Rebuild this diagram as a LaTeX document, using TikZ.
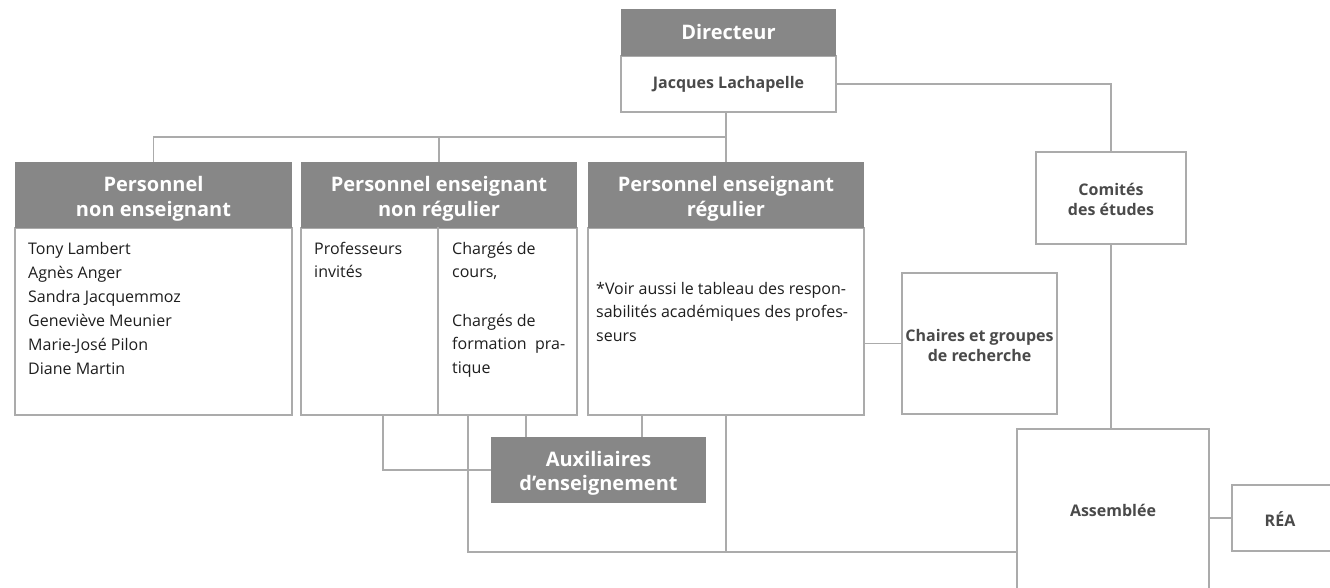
\documentclass[tikz,border=0pt]{standalone}
\usepackage{fontspec}
\setmainfont{Open Sans}
\definecolor{hdrgray}{HTML}{878787}
\definecolor{linegray}{HTML}{ABABAB}
\definecolor{lbltext}{HTML}{4A4A4A}
\definecolor{bodytext}{HTML}{1E1E1E}
\tikzset{
  hdr/.style={fill=hdrgray, text=white, font=\bfseries\fontsize{20}{25}\selectfont, align=center, inner sep=0pt},
  hdrtxt/.style={text=white, font=\bfseries\fontsize{20}{24.5}\selectfont, align=center, inner sep=0pt},
  boxbody/.style={draw=linegray, line width=1.1pt, fill=white, inner sep=0pt},
  conn/.style={draw=linegray, line width=1.1pt},
  lbl/.style={text=lbltext, font=\bfseries\fontsize{16}{20}\selectfont, align=center, inner sep=0pt},
  bodytxt/.style={text=bodytext, font=\fontsize{16}{23.5}\selectfont, align=left, inner sep=0pt, anchor=north west}
}
\begin{document}
\begin{tikzpicture}[x=1pt,y=-1pt]
\useasboundingbox (0,0) rectangle (1330,588);
\begin{scope}
\clip (0,0) rectangle (1330,588);
% Directeur
\node[boxbody, minimum width=215, minimum height=56] (dirb) at (728.5,84) {};
\node[hdr, minimum width=215, minimum height=47] (dirh) at (728.5,32.5) {Directeur};
\node[lbl] (dirn) at (dirb.center) {Jacques Lachapelle};
% columns
\node[boxbody, minimum width=277, minimum height=187] (b1) at (153.5,321.5) {};
\node[hdr, minimum width=277, minimum height=66] (h1) at (153.5,195) {};
\node[hdrtxt] (h1t) at ([yshift=-4pt]h1.center) {Personnel\\non enseignant};
\node[boxbody, minimum width=276, minimum height=187] (b2) at (439,321.5) {};
\node[hdr, minimum width=276, minimum height=66] (h2) at (439,195) {};
\node[hdrtxt] (h2t) at ([yshift=-4pt]h2.center) {Personnel enseignant\\non régulier};
\node[boxbody, minimum width=276, minimum height=187] (b3) at (726,321.5) {};
\node[hdr, minimum width=276, minimum height=66] (h3) at (726,195) {};
\node[hdrtxt] (h3t) at ([yshift=-4pt]h3.center) {Personnel enseignant\\régulier};
% side boxes
\node[boxbody, minimum width=155, minimum height=141] (cha) at (979.5,343.5) {};
\node[lbl] (chat) at ([yshift=-2pt]cha.center) {Chaires et groupes\\de recherche};
\node[boxbody, minimum width=150, minimum height=92] (com) at (1111,198) {};
\node[lbl] (comt) at ([yshift=-1pt]com.center) {Comités\\des études};
\node[boxbody, minimum width=192, minimum height=162] (ass) at (1113,510) {};
\node[lbl] (asst) at (1113,510) {Assemblée};
\node[boxbody, minimum width=100, minimum height=66] (rea) at (1282,518) {};
\node[lbl] (reat) at (1280,519) {RÉA};
\node[hdr, minimum width=215, minimum height=66] (aux) at (598.5,470) {};
\node[hdrtxt] (auxt) at ([yshift=-3.5pt]aux.center) {Auxiliaires\\d’enseignement};
% texts
\node[bodytxt, font=\fontsize{16}{24}\selectfont] (t1) at (28,242) {Tony Lambert\\Agnès Anger\\Sandra Jacquemmoz\\Geneviève Meunier\\Marie-José Pilon\\Diane Martin};
\node[bodytxt] (t2a) at (314,242) {Professeurs\\invités};
\node[bodytxt] (t2b) at (452,242) {Chargés de\\cours,\\[25pt]Chargés de\\formation\ \ pra-\\tique};
\node[bodytxt] (t3) at (596,282) {*Voir aussi le tableau des respon-\\sabilités académiques des profes-\\seurs};
% helper coordinates
\coordinate (bus) at (0,137);
\coordinate (x383) at (383,0);
\coordinate (x438) at (438,0);
\coordinate (x468) at (468,0);
\coordinate (x526) at (526,0);
\coordinate (x642) at (642,0);
\coordinate (y552) at (0,552);
% connectors
\draw[conn] (b2.north -| x438) -- (b2.south -| x438);
\draw[conn] (h1.north) |- (h3.north |- bus);
\draw[conn] (h2.north) -- (h2.north |- bus);
\draw[conn] (dirb.south -| h3.north) -- (h3.north);
\draw[conn] (dirb.east) -| (com.north);
\draw[conn] (com.south) -- (com.south |- ass.north);
\draw[conn] (cha.west) -- (cha.west -| b3.east);
\draw[conn] (b2.south -| x383) |- (aux.west);
\draw[conn] (b2.south -| x526) -- (aux.north -| x526);
\draw[conn] (b3.south -| x642) -- (aux.north -| x642);
\draw[conn] (b2.south -| x468) |- (ass.west |- y552);
\draw[conn] (b3.south) -- (b3.south |- y552);
\draw[conn] (rea.west) -- (rea.west -| ass.east);
\end{scope}
\end{tikzpicture}
\end{document}
